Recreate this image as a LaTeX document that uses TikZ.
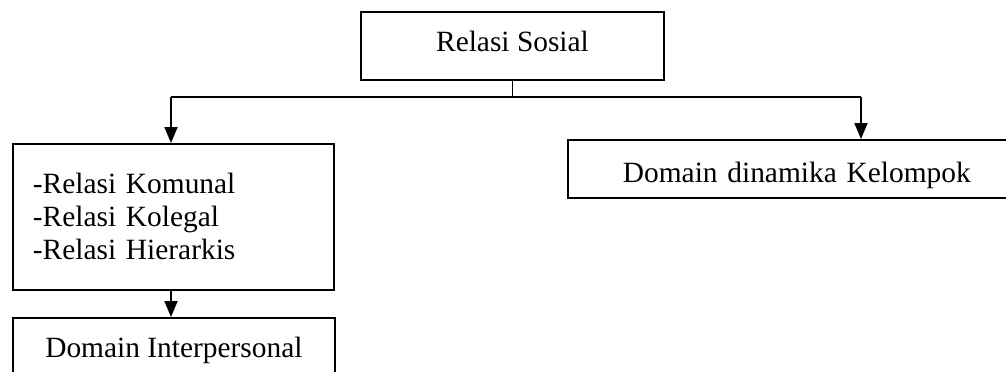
\documentclass[tikz,border=0pt]{standalone}
\usepackage{fontspec}
\setmainfont{Liberation Serif}
\usepackage{tikz}
\usetikzlibrary{arrows.meta, positioning}

\tikzset{
  box/.style={draw, line width=0.9pt, inner sep=0pt, font=\fontsize{14.7}{14}\selectfont},
  arr/.style={line width=0.9pt, -{Triangle[length=8pt, width=6.5pt]}}
}

\begin{document}
\begin{tikzpicture}[x=0.5pt, y=-0.5pt]

        % Page frame
        \clip (0,0) rectangle (1006,371);

        % Top box
        \node[box, minimum width=151.5pt, text height=19.5pt, text depth=14.5pt] (sosial) at (512.5,46) {Relasi Sosial};

        % Left box with the three relations
        \node[box, anchor=north west, inner xsep=10pt, text width=140.5pt, align=left, minimum height=73pt] (relasi) at (12,143)
            {-Relasi Komunal\\[2.5pt]-Relasi Kolegal\\[2.5pt]-Relasi Hierarkis};

        % Right box (runs past the edge)
        \node[box, anchor=north west, inner xsep=27.5pt, text width=190pt, align=left, text height=21.5pt, text depth=7.5pt] (kelompok) at (567,139)
            {Domain dinamika Kelompok};

        % Bottom box (runs past the edge)
        \node[box, anchor=north west, minimum width=161pt, text height=20pt, text depth=12pt] (interpersonal) at (12,317)
            {Domain Interpersonal};

        % Connectors
        \coordinate (jl) at (171,97);
        \coordinate (jr) at (861,97);
        \draw[line width=0.9pt] (sosial.south) -- (sosial.south |- jl);
        \draw[line width=0.9pt] (jl) -- (jr);
        \draw[arr] (jl) -- (jl |- relasi.north);
        \draw[arr] (jr) -- (jr |- kelompok.north);
        \draw[arr] (relasi.south -| jl) -- (interpersonal.north -| jl);

\end{tikzpicture}
\end{document}
